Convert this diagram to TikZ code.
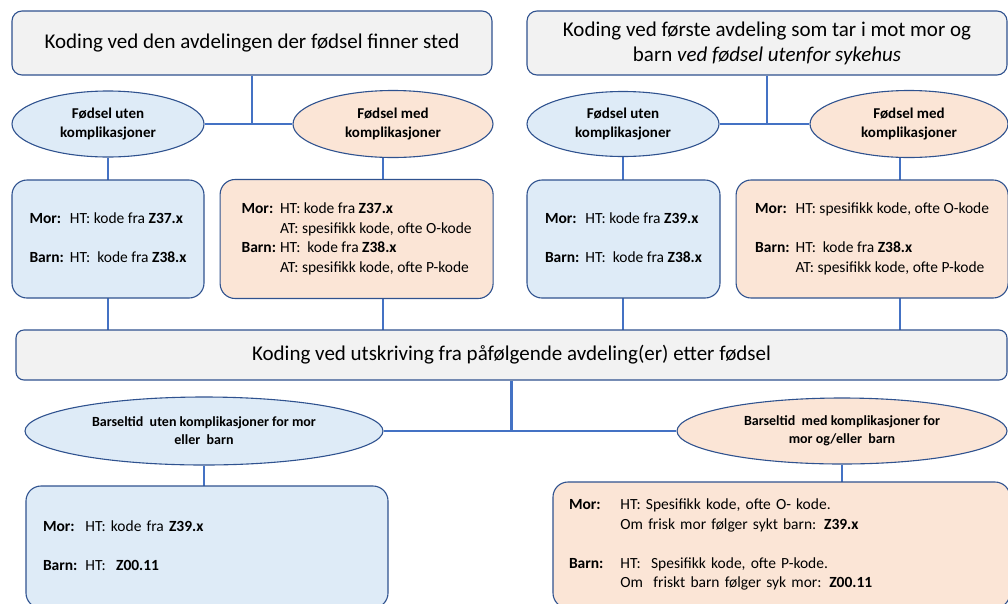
\documentclass[tikz,border=0pt]{standalone}
\usepackage{fontspec}
\setmainfont{Carlito}
\usepackage{tikz}
\usetikzlibrary{shapes,positioning,backgrounds}
\definecolor{rammeblaa}{RGB}{47,82,143}
\definecolor{linjeblaa}{RGB}{68,114,196}
\definecolor{graafyll}{RGB}{242,242,242}
\definecolor{blaafyll}{RGB}{222,235,247}
\definecolor{oransjefyll}{RGB}{251,229,214}

\begin{document}
\begin{tikzpicture}[x=1pt,y=-1pt,
    overskrift/.style={draw=rammeblaa,line width=1.1pt,fill=graafyll,rounded corners=10pt,align=center,inner sep=0pt,font=\fontsize{21}{25}\selectfont},
    utenell/.style={ellipse,draw=rammeblaa,line width=1.1pt,fill=blaafyll,align=center,inner sep=0pt,font=\bfseries\fontsize{15}{19}\selectfont},
    medell/.style={utenell,fill=oransjefyll},
    kodeboks/.style={draw=rammeblaa,line width=1.1pt,rounded corners=15pt,inner sep=0pt,font=\fontsize{15.5}{19.5}\selectfont},
    linje/.style={draw=linjeblaa,line width=2.6pt}]
\useasboundingbox (0,0) rectangle (1008,603);

\node[overskrift,minimum width=480pt,minimum height=64pt] (TopLeft) at (252,43) {Koding ved den avdelingen der fødsel finner sted};
\node[overskrift,minimum width=480pt,minimum height=64pt] (TopRight) at (767,43) {Koding ved første avdeling som tar i mot mor og\\barn \textit{ved fødsel utenfor sykehus}};

\node[utenell,minimum width=192pt,minimum height=66pt] (UtenL) at (108,124) {Fødsel uten\\komplikasjoner};
\node[medell,minimum width=200pt,minimum height=67pt] (MedL) at (393,124) {Fødsel med\\komplikasjoner};
\node[utenell,minimum width=192pt,minimum height=65pt] (UtenR) at (623,124) {Fødsel uten\\komplikasjoner};
\node[medell,minimum width=198pt,minimum height=67pt] (MedR) at (909,124) {Fødsel med\\komplikasjoner};

\node[kodeboks,fill=blaafyll,minimum width=192pt,minimum height=118pt] (BoxUtenL) at (108,239) {\begin{tabular}{@{}l@{\hspace{6pt}}l@{}}
  \textbf{Mor:} & HT: kode fra \textbf{Z37.x}\\
  & \\
  \textbf{Barn:} & HT:\ \ kode fra \textbf{Z38.x}
\end{tabular}};
\node[kodeboks,fill=oransjefyll,minimum width=273pt,minimum height=119pt,right=15pt of BoxUtenL] (BoxMedL) {\begin{tabular}{@{}l@{\hspace{4pt}}l@{}}
  \textbf{Mor:} & HT: kode fra \textbf{Z37.x}\\
  & AT: spesifikk kode, ofte O-kode\\
  \textbf{Barn:} & HT:\ \ kode fra \textbf{Z38.x}\\
  & AT: spesifikk kode, ofte P-kode
\end{tabular}};
\node[kodeboks,fill=blaafyll,minimum width=193pt,minimum height=118pt] (BoxUtenR) at (623.5,239) {\begin{tabular}{@{}l@{\hspace{6pt}}l@{}}
  \textbf{Mor:} & HT: kode fra \textbf{Z39.x}\\
  & \\
  \textbf{Barn:} & HT:\ \ kode fra \textbf{Z38.x}
\end{tabular}};
\node[kodeboks,fill=oransjefyll,minimum width=272pt,minimum height=118pt,right=15pt of BoxUtenR] (BoxMedR) {\begin{tabular}{@{}l@{\hspace{6pt}}l@{}}
  \textbf{Mor:} & HT: spesifikk kode, ofte O-kode\\
  & \\
  \textbf{Barn:} & HT:\ \ kode fra \textbf{Z38.x}\\
  & AT: spesifikk kode, ofte P-kode
\end{tabular}};

\node[overskrift,rounded corners=8pt,minimum width=991pt,minimum height=50pt] (Bar) at (511.5,355) {Koding ved utskriving fra påfølgende avdeling(er) etter fødsel};

\node[utenell,minimum width=358pt,minimum height=68pt,font=\bfseries\fontsize{14}{18}\selectfont] (UtenB) at (204,431) {Barseltid\ \ uten komplikasjoner for mor\\eller\ \ barn};
\node[medell,minimum width=330pt,minimum height=66pt,font=\bfseries\fontsize{14}{18}\selectfont] (MedB) at (842,431) {Barseltid\ \ med komplikasjoner for\\mor og/eller\ \ barn};

\node[kodeboks,fill=blaafyll,text width=328pt,inner xsep=17pt,minimum height=122pt,align=left] (BoxUtenB) at (207,547) {\begin{tabular}{@{}l@{\hspace{8pt}}l@{}}
  \textbf{Mor:} & HT: kode fra \textbf{Z39.x}\\
  & \\
  \textbf{Barn:} & HT:\ \ \textbf{Z00.11}
\end{tabular}};
\node[kodeboks,fill=oransjefyll,text width=425pt,inner xsep=16pt,minimum height=126pt,align=left] (BoxMedB) at (781.5,545) {\begin{tabular}{@{}l@{\hspace{17pt}}l@{}}
  \textbf{Mor:} & HT: Spesifikk kode, ofte O- kode.\\
  & Om frisk mor følger sykt barn: \textbf{Z39.x}\\
  & \\
  \textbf{Barn:} & HT:\ \ Spesifikk kode, ofte P-kode.\\
  & Om\ \ friskt barn følger syk mor: \textbf{Z00.11}
\end{tabular}};

\coordinate (MedLinjeL) at (383,124);
\coordinate (MedLinjeR) at (900,124);

\begin{scope}[on background layer]
\draw[linje] (TopLeft) -- (TopLeft |- UtenL);
\draw[linje] (UtenL) -- (MedL);
\draw[linje] (UtenL) -- (UtenL |- Bar);
\draw[linje] (MedLinjeL) -- (MedLinjeL |- Bar);
\draw[linje] (TopRight) -- (TopRight |- UtenR);
\draw[linje] (UtenR) -- (MedR);
\draw[linje] (UtenR) -- (UtenR |- Bar);
\draw[linje] (MedLinjeR) -- (MedLinjeR |- Bar);
\draw[linje] (Bar) -- (Bar |- UtenB);
\draw[linje] (UtenB) -- (MedB);
\draw[linje] (UtenB) -- (UtenB |- BoxUtenB);
\draw[linje] (MedB) -- (MedB |- BoxMedB);
\end{scope}
\end{tikzpicture}
\end{document}
